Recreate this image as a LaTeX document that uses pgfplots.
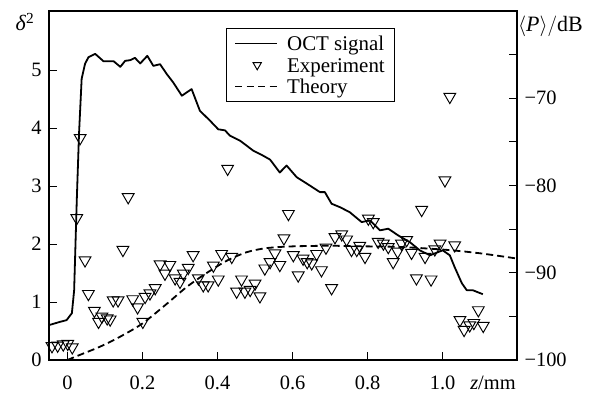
\documentclass[border=0pt]{standalone}
\usepackage{pgfplots}
\pgfplotsset{compat=1.18}
\usepackage{fontspec}
\setmainfont{Liberation Serif}
\pgfplotstableread{
z d
-0.041 0.24
-0.026 0.25
-0.011 0.27
0.001 0.28
0.013 0.22
0.025 2.45
0.034 3.83
0.047 1.72
0.056 1.14
0.072 0.85
0.083 0.66
0.092 0.75
0.106 0.72
0.114 0.70
0.122 1.03
0.135 1.03
0.148 1.90
0.162 2.81
0.174 1.05
0.187 0.91
0.201 0.66
0.207 1.09
0.220 1.15
0.234 1.24
0.247 1.65
0.260 1.49
0.273 1.64
0.287 1.41
0.300 1.35
0.309 1.49
0.322 1.59
0.335 1.81
0.349 1.41
0.362 1.29
0.375 1.29
0.389 1.63
0.402 1.39
0.411 1.83
0.427 3.30
0.438 1.78
0.451 1.18
0.464 1.39
0.473 1.18
0.487 1.21
0.500 1.32
0.513 1.10
0.526 1.58
0.540 1.69
0.553 1.84
0.566 1.64
0.577 2.10
0.589 2.52
0.602 1.81
0.615 1.46
0.628 1.75
0.639 1.69
0.651 1.67
0.664 1.83
0.677 1.55
0.689 1.94
0.704 1.24
0.713 2.12
0.731 2.17
0.744 2.08
0.757 1.90
0.771 1.90
0.779 1.97
0.793 1.78
0.802 2.44
0.815 2.38
0.828 2.04
0.842 2.01
0.855 1.95
0.868 1.69
0.880 1.87
0.890 2.01
0.904 2.07
0.917 1.85
0.930 1.41
0.944 2.59
0.953 1.78
0.969 1.39
0.979 1.91
0.993 2.01
1.006 3.10
1.019 4.54
1.032 1.98
1.046 0.69
1.057 0.52
1.072 0.60
1.083 0.64
1.095 0.86
1.108 0.59
}\experiment
\pgfplotstableread{
z d
0.000 0.00
0.034 0.09
0.087 0.23
0.140 0.40
0.200 0.63
0.265 0.97
0.318 1.26
0.371 1.50
0.424 1.71
0.478 1.86
0.531 1.93
0.600 1.96
0.700 1.97
0.800 1.96
0.886 1.95
1.010 1.90
1.100 1.84
1.198 1.75
}\theory
\pgfplotstableread{
z p
-0.049 -96.00
-0.019 -95.62
-0.002 -95.43
0.012 -94.63
0.018 -92.00
0.025 -81.70
0.031 -74.06
0.038 -67.77
0.047 -66.06
0.056 -65.30
0.074 -64.91
0.096 -65.75
0.123 -65.75
0.141 -66.40
0.154 -65.71
0.167 -65.64
0.180 -65.37
0.194 -66.01
0.213 -65.14
0.229 -66.29
0.247 -66.10
0.265 -67.24
0.282 -68.19
0.305 -69.71
0.331 -68.95
0.353 -71.43
0.380 -72.57
0.402 -73.56
0.420 -73.68
0.433 -74.29
0.460 -74.86
0.495 -76.00
0.521 -76.57
0.540 -77.03
0.566 -78.51
0.584 -77.71
0.611 -79.05
0.639 -79.81
0.673 -80.76
0.686 -80.76
0.704 -82.09
0.726 -82.48
0.752 -83.05
0.784 -84.19
0.806 -84.00
0.833 -85.14
0.855 -84.95
0.881 -85.71
0.913 -86.51
0.939 -87.43
0.966 -88.00
1.000 -87.43
1.019 -88.00
1.032 -89.37
1.051 -91.20
1.064 -92.00
1.080 -92.00
1.107 -92.46
}\oct
\begin{document}
\begin{tikzpicture}
\pgfplotsset{
  common/.style={
    scale only axis, width=468bp, height=349bp,
    xmin=-0.049, xmax=1.198,
    axis line style={line width=1.1bp},
    tick style={line width=1bp, black},
    major tick length=8bp, minor tick length=8bp,
    tick align=inside,
    ticklabel style={font=\fontsize{20.5}{24}\selectfont},
    clip=false,
  }
}
\begin{axis}[common,
  name=main,
  ymin=0, ymax=6.02,
  xtick pos=bottom, ytick pos=left,
  xtick={0,0.2,0.4,0.6,0.8,1.0},
  xticklabels={0,0.2,0.4,0.6,0.8,1.0},
  extra x ticks={1.134},
  extra x tick labels={\textit{z}/mm},
  extra x tick style={major tick length=0pt},
  xticklabel style={anchor=base, yshift=-29bp},
  ytick={0,1,2,3,4,5},
  yticklabels={0,1,2,3,4,5},
  yticklabel style={xshift=-4bp},
  legend style={at={(axis description cs:0.3776,0.952)}, anchor=north west,
    draw=black, line width=1.1bp, font=\fontsize{21}{23}\selectfont,
    inner xsep=8bp, inner ysep=4.5bp, row sep=0bp, column sep=7bp,
    cells={anchor=west, inner xsep=2bp, inner ysep=1.65bp, text height=16bp, text depth=4bp}},
]
\addlegendimage{black, line width=1.9bp,
  legend image code/.code={\draw[line width=1.9bp] (0bp,0bp) -- (42bp,0bp);}}
\addlegendentry{OCT signal}
\addplot[only marks, mark=triangle, mark size=6.8bp,
  mark options={rotate=180, line width=0.95bp, fill=none, draw=black},
  legend image code/.code={\draw[mark size=4.8bp, mark options={rotate=180, line width=0.95bp, fill=none}] plot[mark=triangle] coordinates {(22bp,0bp)};}]
  table[x=z, y=d] {\experiment};
\addlegendentry{Experiment}
\addplot[black, line width=1.8bp, dash pattern=on 7bp off 4bp, smooth, tension=0.5,
  legend image code/.code={\draw[line width=1.9bp, dash pattern=on 7bp off 4.5bp] (0bp,0bp) -- (42bp,0bp);}]
  table[x=z, y=d] {\theory};
\addlegendentry{Theory}
\node[font=\fontsize{22}{24}\selectfont] at ([xshift=-24bp, yshift=-11bp]rel axis cs:0,1) {\textit{δ}\textsuperscript{2}};
\end{axis}
\begin{axis}[common,
  ymin=-100, ymax=-60,
  xtick=\empty,
  ytick pos=right,
  ytick={-100,-90,-80,-70},
  yticklabels={−100,−90,−80,−70},
  minor ytick={-95,-85,-75,-65},
  yticklabel style={xshift=4bp},
]
\addplot[black, line width=1.8bp, line join=round] table[x=z, y=p] {\oct};
\node[font=\fontsize{22}{24}\selectfont, anchor=west, inner xsep=1bp] at ([yshift=-15bp]rel axis cs:1,1) {$\langle$\textit{P}$\rangle/$dB};
\end{axis}
\path (main.south west) ++(-49bp,-32bp) coordinate (bl);
\path (main.north east) ++(93bp,11bp) coordinate (tr);
\path (bl) rectangle (tr);
\end{tikzpicture}
\end{document}
